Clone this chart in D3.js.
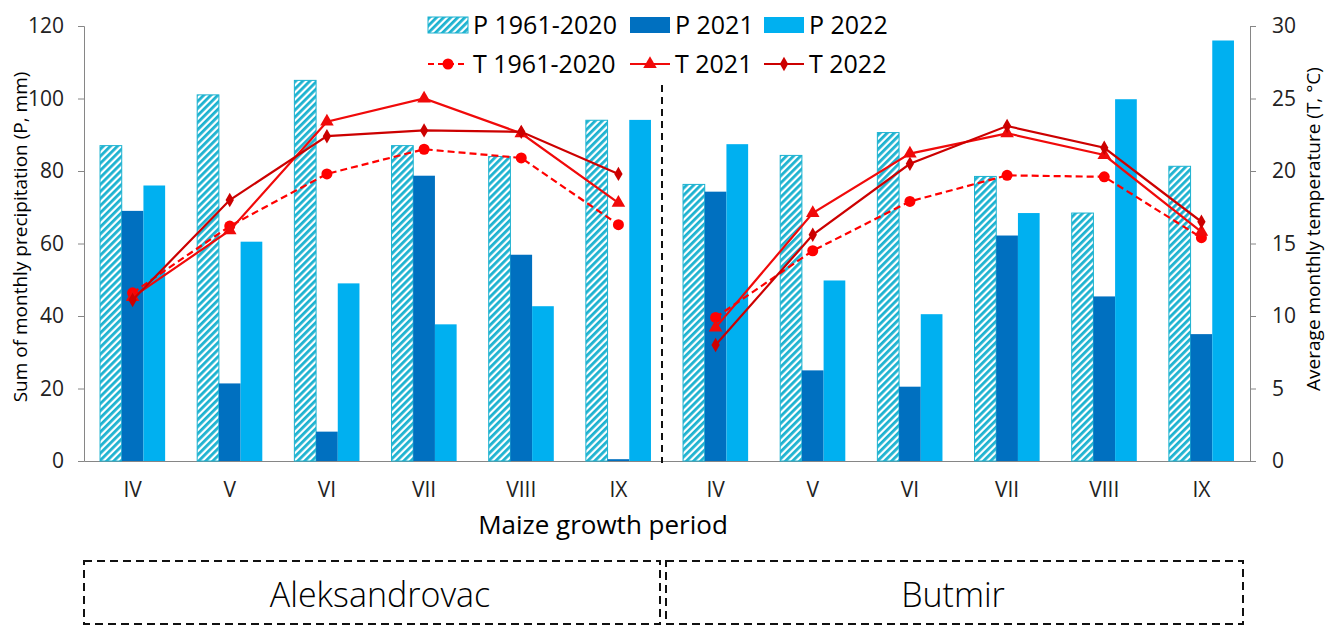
<!DOCTYPE html>
<html>
<head>
<meta charset="utf-8">
<script src="https://cdn.jsdelivr.net/npm/d3@7"></script>
<style>
  body { margin: 0; background: #fff; }
  svg { display: block; font-family: "Open Sans", sans-serif; }
  .axis path, .axis line { stroke: #868686; }
  .axis text { fill: #222; font-size: 21px; font-family: "Open Sans", sans-serif; }
</style>
</head>
<body>
<svg width="1327" height="626"></svg>
<script>
// **** Data ****

var months = ['IV', 'V', 'VI', 'VII', 'VIII', 'IX'];
var sites = ['Aleksandrovac', 'Butmir'];

// precipitation, mm (Aleksandrovac IV..IX, then Butmir IV..IX)
var pLongTerm = [87, 101, 105, 87, 84, 94, 76.3, 84.3, 90.6, 78.5, 68.4, 81.3];
var p2021 = [69, 21.4, 8.1, 78.7, 56.9, 0.5, 74.3, 25, 20.5, 62.2, 45.4, 35];
var p2022 = [76, 60.5, 49, 37.7, 42.7, 94.1, 87.4, 49.8, 40.5, 68.4, 99.8, 116];

// temperature, °C
var tLongTerm = [11.6, 16.2, 19.8, 21.5, 20.9, 16.3, 9.9, 14.5, 17.9, 19.7, 19.6, 15.4];
var t2021 = [11.3, 15.9, 23.4, 25.0, 22.6, 17.8, 9.2, 17.1, 21.2, 22.6, 21.1, 15.8];
var t2022 = [11.1, 18.0, 22.4, 22.8, 22.7, 19.8, 8.0, 15.6, 20.5, 23.1, 21.6, 16.5];

var pTicks = [0, 20, 40, 60, 80, 100, 120];
var tTicks = [0, 5, 10, 15, 20, 25, 30];

var barSeries = ['P 1961-2020', 'P 2021', 'P 2022'];
var lineSeries = ['T 1961-2020', 'T 2021', 'T 2022'];

// **** Build rows ****

var keys = [];
sites.forEach(function(s) {
    months.forEach(function(m) { keys.push(s + '|' + m); });
});

var bars = [pLongTerm, p2021, p2022];
var lines = [tLongTerm, t2021, t2022];

// **** Scales and axes ****

var svg = d3.select('svg');

var xScale = d3.scaleBand()
    .domain(keys).range([84, 1250])
    .paddingInner(0.33).paddingOuter(0.165);

var xInner = d3.scaleBand()
    .domain(barSeries).range([0, xScale.bandwidth()]);

var pScale = d3.scaleLinear().domain([0, 120]).range([461, 26]);
var tScale = d3.scaleLinear().domain([0, 30]).range([461, 26]);

var barStyle = {
    'P 1961-2020': { fill: 'url(#hatch)', stroke: '#1cb2d0' },
    'P 2021': { fill: '#0070c0', stroke: 'none' },
    'P 2022': { fill: '#00b0f0', stroke: 'none' }
};
var lineStyle = {
    'T 1961-2020': { color: '#ff0000', dash: '7,4', marker: 'circle' },
    'T 2021': { color: '#f00a0a', dash: null, marker: 'triangle' },
    'T 2022': { color: '#cc0000', dash: null, marker: 'diamond' }
};

// hatch pattern for the long-term precipitation
var defs = svg.append('defs');
var pat = defs.append('pattern')
    .attr('id', 'hatch')
    .attr('patternUnits', 'userSpaceOnUse')
    .attr('width', 5).attr('height', 5)
    .attr('patternTransform', 'rotate(45)');
pat.append('rect').attr('width', 5).attr('height', 5).attr('fill', '#fff');
pat.append('line')
    .attr('x1', 1.4).attr('y1', 0).attr('x2', 1.4).attr('y2', 5)
    .attr('stroke', '#1cb2d0').attr('stroke-width', 2.8);

svg.append('g').attr('class', 'y axis')
    .attr('transform', 'translate(84,0)')
    .call(d3.axisLeft(pScale).tickValues(pTicks).tickSize(6).tickPadding(14));

svg.append('g').attr('class', 'y axis')
    .attr('transform', 'translate(1250,0)')
    .call(d3.axisRight(tScale).tickValues(tTicks).tickSize(6).tickPadding(16));

svg.append('g').attr('class', 'x axis')
    .attr('transform', 'translate(0,461)')
    .call(d3.axisBottom(xScale).tickSize(0).tickSizeOuter(0).tickPadding(21)
        .tickFormat(function(d) { return d.split('|')[1]; }));

svg.append('text')
    .attr('transform', 'translate(27,237) rotate(-90)')
    .attr('text-anchor', 'middle')
    .style('font-size', '19px')
    .text('Sum of monthly precipitation (P, mm)');

svg.append('text')
    .attr('transform', 'translate(1320,229) rotate(-90)')
    .attr('text-anchor', 'middle')
    .style('font-size', '19px')
    .text('Average monthly temperature (T, °C)');

svg.append('text')
    .attr('x', 603).attr('y', 534)
    .attr('text-anchor', 'middle')
    .style('font-size', '26px')
    .text('Maize growth period');

// **** Bars ****

barSeries.forEach(function(name, si) {
    svg.append('g').selectAll('rect')
        .data(keys)
        .enter()
        .append('rect')
        .attr('x', function(k) { return xScale(k) + xInner(name); })
        .attr('width', xInner.bandwidth())
        .attr('y', function(k, i) { return pScale(bars[si][i]); })
        .attr('height', function(k, i) { return pScale(0) - pScale(bars[si][i]); })
        .attr('fill', barStyle[name].fill)
        .attr('stroke', barStyle[name].stroke)
        .attr('stroke-width', 1);
});

// divider between the two sites
svg.append('line')
    .attr('x1', 662).attr('x2', 662)
    .attr('y1', 85).attr('y2', 463)
    .attr('stroke', '#111').attr('stroke-width', 2)
    .attr('stroke-dasharray', '7,5');

// **** Lines ****

function drawMarker(g, type, color, size) {
    if (type === 'circle') {
        g.append('circle').attr('r', size).attr('fill', color);
    } else if (type === 'triangle') {
        g.append('path')
            .attr('d', d3.symbol(d3.symbolTriangle, size * size * 3.2)())
            .attr('fill', color);
    } else {
        g.append('path')
            .attr('d', d3.symbol(d3.symbolDiamond, size * size * 2.4)())
            .attr('fill', color);
    }
}

var cx = function(k) { return xScale(k) + xScale.bandwidth() / 2; };

lineSeries.forEach(function(name, si) {
    var st = lineStyle[name];
    var pts = keys.map(function(k, i) { return { k: k, site: k.split('|')[0], t: lines[si][i] }; });

    sites.forEach(function(site) {
        var seg = pts.filter(function(d) { return d.site === site; });
        svg.append('path')
            .datum(seg)
            .attr('fill', 'none')
            .attr('stroke', st.color)
            .attr('stroke-width', 2.2)
            .attr('stroke-dasharray', st.dash)
            .attr('d', d3.line()
                .x(function(d) { return cx(d.k); })
                .y(function(d) { return tScale(d.t); }));
    });

    svg.append('g').selectAll('g')
        .data(pts)
        .enter()
        .append('g')
        .attr('transform', function(d) {
            return 'translate(' + cx(d.k) + ',' + tScale(d.t) + ')';
        })
        .each(function() {
            drawMarker(d3.select(this), st.marker, st.color, st.marker === 'circle' ? 5.5 : 5);
        });
});

// **** Legend ****

var legend = svg.append('g').style('font-size', '25px');
var legendX = [428, 630, 764];

barSeries.forEach(function(name, i) {
    var g = legend.append('g').attr('transform', 'translate(' + legendX[i] + ',17)');
    g.append('rect')
        .attr('width', 40).attr('height', 16)
        .attr('fill', barStyle[name].fill)
        .attr('stroke', barStyle[name].stroke);
    g.append('text').attr('x', 45).attr('y', 17).text(name);
});

lineSeries.forEach(function(name, i) {
    var st = lineStyle[name];
    var g = legend.append('g').attr('transform', 'translate(' + legendX[i] + ',64)');
    g.append('line')
        .attr('x1', 0).attr('x2', 40)
        .attr('stroke', st.color).attr('stroke-width', 2.2)
        .attr('stroke-dasharray', st.dash ? '6,4' : null);
    var m = g.append('g').attr('transform', 'translate(20,0)');
    drawMarker(m, st.marker, st.color, st.marker === 'circle' ? 5.5 : 5);
    g.append('text').attr('x', 45).attr('y', 9).text(name);
});

// **** Site boxes ****

var boxX = [84, 666];
var boxW = [576, 577];
sites.forEach(function(site, i) {
    svg.append('rect')
        .attr('x', boxX[i]).attr('y', 561)
        .attr('width', boxW[i]).attr('height', 63)
        .attr('fill', 'none')
        .attr('stroke', '#111').attr('stroke-width', 2)
        .attr('stroke-dasharray', '8,5');
    svg.append('text')
        .attr('x', i === 0 ? 380 : 953).attr('y', 607)
        .attr('text-anchor', 'middle')
        .style('font-size', '34px')
        .style('font-weight', 300)
        .text(site);
});
</script>
</body>
</html>
